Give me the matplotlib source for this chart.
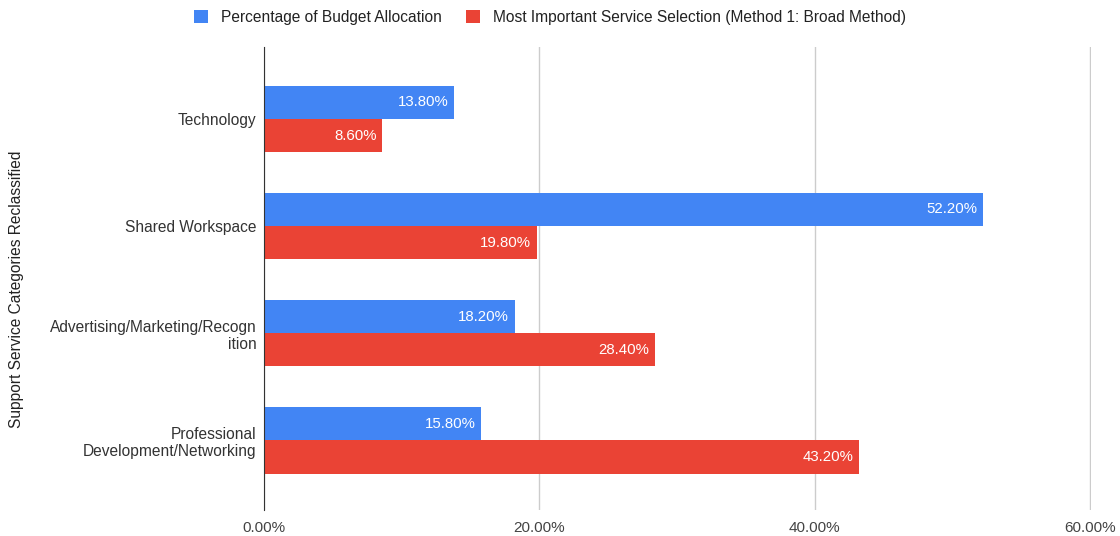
import matplotlib
matplotlib.use("Agg")
import matplotlib.pyplot as plt
import numpy as np

plt.rcParams['font.family'] = ['Liberation Sans', 'DejaVu Sans']

categories = ["Technology", "Shared Workspace",
              "Advertising/Marketing/Recogn\nition",
              "Professional\nDevelopment/Networking"]
budget = [13.8, 52.2, 18.2, 15.8]
important = [8.6, 19.8, 28.4, 43.2]
series_names = ["Percentage of Budget Allocation",
                "Most Important Service Selection (Method 1: Broad Method)"]
xticks = [0, 20, 40, 60]

BLUE = "#4285F4"
RED = "#EA4335"

fig = plt.figure(figsize=(11.2, 5.36), dpi=100)
ax = fig.add_axes([0.2357, 0.0485, 0.7384, 0.8635])

y = np.arange(len(categories))
h = 0.31
b1 = ax.barh(y - h / 2, budget, height=h, color=BLUE, label=series_names[0], zorder=3)
b2 = ax.barh(y + h / 2, important, height=h, color=RED, label=series_names[1], zorder=3)

for bars, vals in ((b1, budget), (b2, important)):
    for bar, v in zip(bars, vals):
        ax.text(bar.get_width() - 0.4, bar.get_y() + bar.get_height() / 2,
                "%.2f%%" % v, color="white", ha="right", va="center",
                fontsize=10.8, zorder=4)

ax.set_ylim(3.65, -0.67)
ax.set_xlim(0, 60.08)
ax.set_yticks(y)
ax.set_yticklabels(categories, fontsize=11.2, color="#333333", linespacing=1.15)
ax.set_xticks(xticks)
ax.set_xticklabels(["%.2f%%" % t for t in xticks], fontsize=11, color="#444444")
ax.tick_params(axis="y", length=0, pad=5.5)
ax.tick_params(axis="x", length=0, pad=8)

ax.grid(axis="x", color="#cccccc", linewidth=1, zorder=0)
for s in ["top", "right", "bottom"]:
    ax.spines[s].set_visible(False)
ax.spines["left"].set_color("#333333")
ax.spines["left"].set_zorder(5)

fig.text(0.015, 0.46, "Support Service Categories Reclassified", rotation=90,
         ha="center", va="center", fontsize=11.2, color="#222222")

fig.legend(loc="upper center", bbox_to_anchor=(0.491, 1.008), ncol=2, frameon=False,
           fontsize=11.2, handlelength=0.9, handleheight=0.9, columnspacing=1.6,
           handletextpad=0.8, labelcolor="#222222")

fig.savefig("out.png", dpi=100)
